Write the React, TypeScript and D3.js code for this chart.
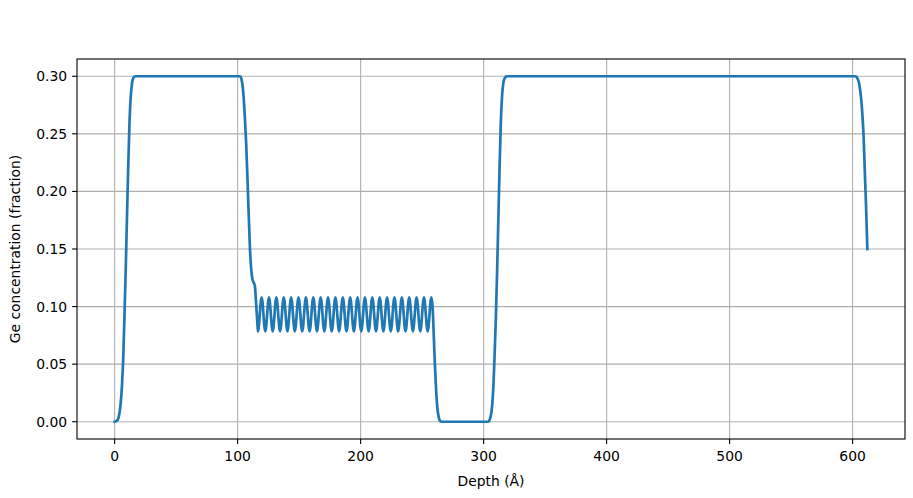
import React from "react";
import * as d3 from "d3";

const depthRise1 = [0, 2, 3, 4, 5, 6, 7, 8, 9, 10, 11, 12, 13, 14, 15, 16, 17];
const geRise1 = [0, 0.001, 0.003, 0.008, 0.017, 0.032, 0.056, 0.092, 0.132, 0.176, 0.22, 0.257, 0.281, 0.293, 0.298, 0.2995, 0.3];

const depthDrop1 = [102, 103, 104, 105, 106, 107, 108, 109, 110, 111, 112, 113, 114, 115, 116];
const geDrop1 = [0.3, 0.298, 0.292, 0.28, 0.262, 0.24, 0.211, 0.18, 0.151, 0.133, 0.124, 0.121, 0.118, 0.103, 0.087];

const depthSuperlattice = [
  116.5, 119.5, 122.5, 125.5, 128.5, 131.5, 134.5, 137.5, 140.5, 143.5, 146.5, 149.5,
  152.5, 155.5, 158.5, 161.5, 164.5, 167.5, 170.5, 173.5, 176.5, 179.5, 182.5, 185.5,
  188.5, 191.5, 194.5, 197.5, 200.5, 203.5, 206.5, 209.5, 212.5, 215.5, 218.5, 221.5,
  224.5, 227.5, 230.5, 233.5, 236.5, 239.5, 242.5, 245.5, 248.5, 251.5, 254.5, 257.5,
];
const geSuperlattice = [
  0.0785, 0.108, 0.0785, 0.108, 0.0785, 0.108, 0.0785, 0.108, 0.0785, 0.108, 0.0785, 0.108,
  0.0785, 0.108, 0.0785, 0.108, 0.0785, 0.108, 0.0785, 0.108, 0.0785, 0.108, 0.0785, 0.108,
  0.0785, 0.108, 0.0785, 0.108, 0.0785, 0.108, 0.0785, 0.108, 0.0785, 0.108, 0.0785, 0.108,
  0.0785, 0.108, 0.0785, 0.108, 0.0785, 0.108, 0.0785, 0.108, 0.0785, 0.108, 0.0785, 0.108,
];

const depthDrop2 = [258.5, 259.5, 260.5, 261.5, 262.5, 263.5, 264.5, 266];
const geDrop2 = [0.1, 0.074, 0.047, 0.025, 0.011, 0.004, 0.001, 0];

const depthRise2 = [304, 305, 306, 307, 308, 309, 310, 311, 312, 313, 314, 315, 316, 317, 318, 319];
const geRise2 = [0, 0.002, 0.006, 0.015, 0.032, 0.06, 0.092, 0.132, 0.177, 0.222, 0.26, 0.283, 0.294, 0.298, 0.2995, 0.3];

const depthDrop3 = [602, 603, 604, 605, 606, 607, 608, 609, 610, 611, 612];
const geDrop3 = [0.3, 0.2995, 0.298, 0.295, 0.289, 0.28, 0.266, 0.246, 0.215, 0.185, 0.15];

const xTicks = [0, 100, 200, 300, 400, 500, 600];
const yTicks = [0, 0.05, 0.1, 0.15, 0.2, 0.25, 0.3];
const yTickLabels = ["0.00", "0.05", "0.10", "0.15", "0.20", "0.25", "0.30"];

const xLabel = "Depth (Å)";
const yLabel = "Ge concentration (fraction)";

const W = 913;
const H = 498;
const M = { left: 77, right: 905, top: 59, bottom: 439 };
const FONT = "DejaVu Sans, sans-serif";

export default function App() {
  const depth = [...depthRise1, ...depthDrop1, ...depthSuperlattice, ...depthDrop2, ...depthRise2, ...depthDrop3];
  const ge = [...geRise1, ...geDrop1, ...geSuperlattice, ...geDrop2, ...geRise2, ...geDrop3];
  const pts: [number, number][] = depth.map((d, i) => [d, ge[i]]);

  const xMin = 0, xMax = 612;
  const xPad = (xMax - xMin) * 0.05;
  const x = d3.scaleLinear().domain([xMin - xPad, xMax + xPad]).range([M.left, M.right]);
  const yPad = 0.3 * 0.05;
  const y = d3.scaleLinear().domain([0 - yPad, 0.3 + yPad]).range([M.bottom, M.top]);

  const line = d3
    .line<[number, number]>()
    .x((d) => x(d[0]))
    .y((d) => y(d[1]))
    .curve(d3.curveMonotoneX);

  const grid = "#b0b0b0";
  const tickLen = 4.9;

  return (
    <div style={{ position: "absolute", left: 0, top: 0 }}>
      <svg width={W} height={H} style={{ display: "block", background: "#fff" }}>
        <defs>
          <clipPath id="plotclip">
            <rect x={M.left} y={M.top} width={M.right - M.left} height={M.bottom - M.top} />
          </clipPath>
        </defs>
        {/* grid */}
        {xTicks.map((t) => (
          <line key={"gx" + t} x1={x(t)} x2={x(t)} y1={M.top} y2={M.bottom} stroke={grid} strokeWidth={1.1} />
        ))}
        {yTicks.map((t) => (
          <line key={"gy" + t} x1={M.left} x2={M.right} y1={y(t)} y2={y(t)} stroke={grid} strokeWidth={1.1} />
        ))}
        {/* data */}
        <path
          d={line(pts) || ""}
          fill="none"
          stroke="#1f77b4"
          strokeWidth={2.7}
          strokeLinejoin="round"
          strokeLinecap="square"
          clipPath="url(#plotclip)"
        />
        {/* spines */}
        <rect
          x={M.left}
          y={M.top}
          width={M.right - M.left}
          height={M.bottom - M.top}
          fill="none"
          stroke="#000"
          strokeWidth={1.1}
        />
        {/* x ticks */}
        {xTicks.map((t) => (
          <g key={"xt" + t}>
            <line x1={x(t)} x2={x(t)} y1={M.bottom} y2={M.bottom + tickLen} stroke="#000" strokeWidth={1.1} />
            <text x={x(t)} y={M.bottom + tickLen + 17.5} textAnchor="middle" fontFamily={FONT} fontSize={13.9} fill="#000">
              {t}
            </text>
          </g>
        ))}
        {/* y ticks */}
        {yTicks.map((t, i) => (
          <g key={"yt" + t}>
            <line x1={M.left - tickLen} x2={M.left} y1={y(t)} y2={y(t)} stroke="#000" strokeWidth={1.1} />
            <text
              x={M.left - tickLen - 4.9}
              y={y(t)}
              dy="0.36em"
              textAnchor="end"
              fontFamily={FONT}
              fontSize={13.9}
              fill="#000"
            >
              {yTickLabels[i]}
            </text>
          </g>
        ))}
        {/* axis labels */}
        <text
          x={(M.left + M.right) / 2}
          y={486}
          textAnchor="middle"
          fontFamily={FONT}
          fontSize={13.9}
          fill="#000"
        >
          {xLabel}
        </text>
        <text
          transform={`translate(20, ${(M.top + M.bottom) / 2}) rotate(-90)`}
          textAnchor="middle"
          fontFamily={FONT}
          fontSize={13.9}
          fill="#000"
        >
          {yLabel}
        </text>
      </svg>
    </div>
  );
}
